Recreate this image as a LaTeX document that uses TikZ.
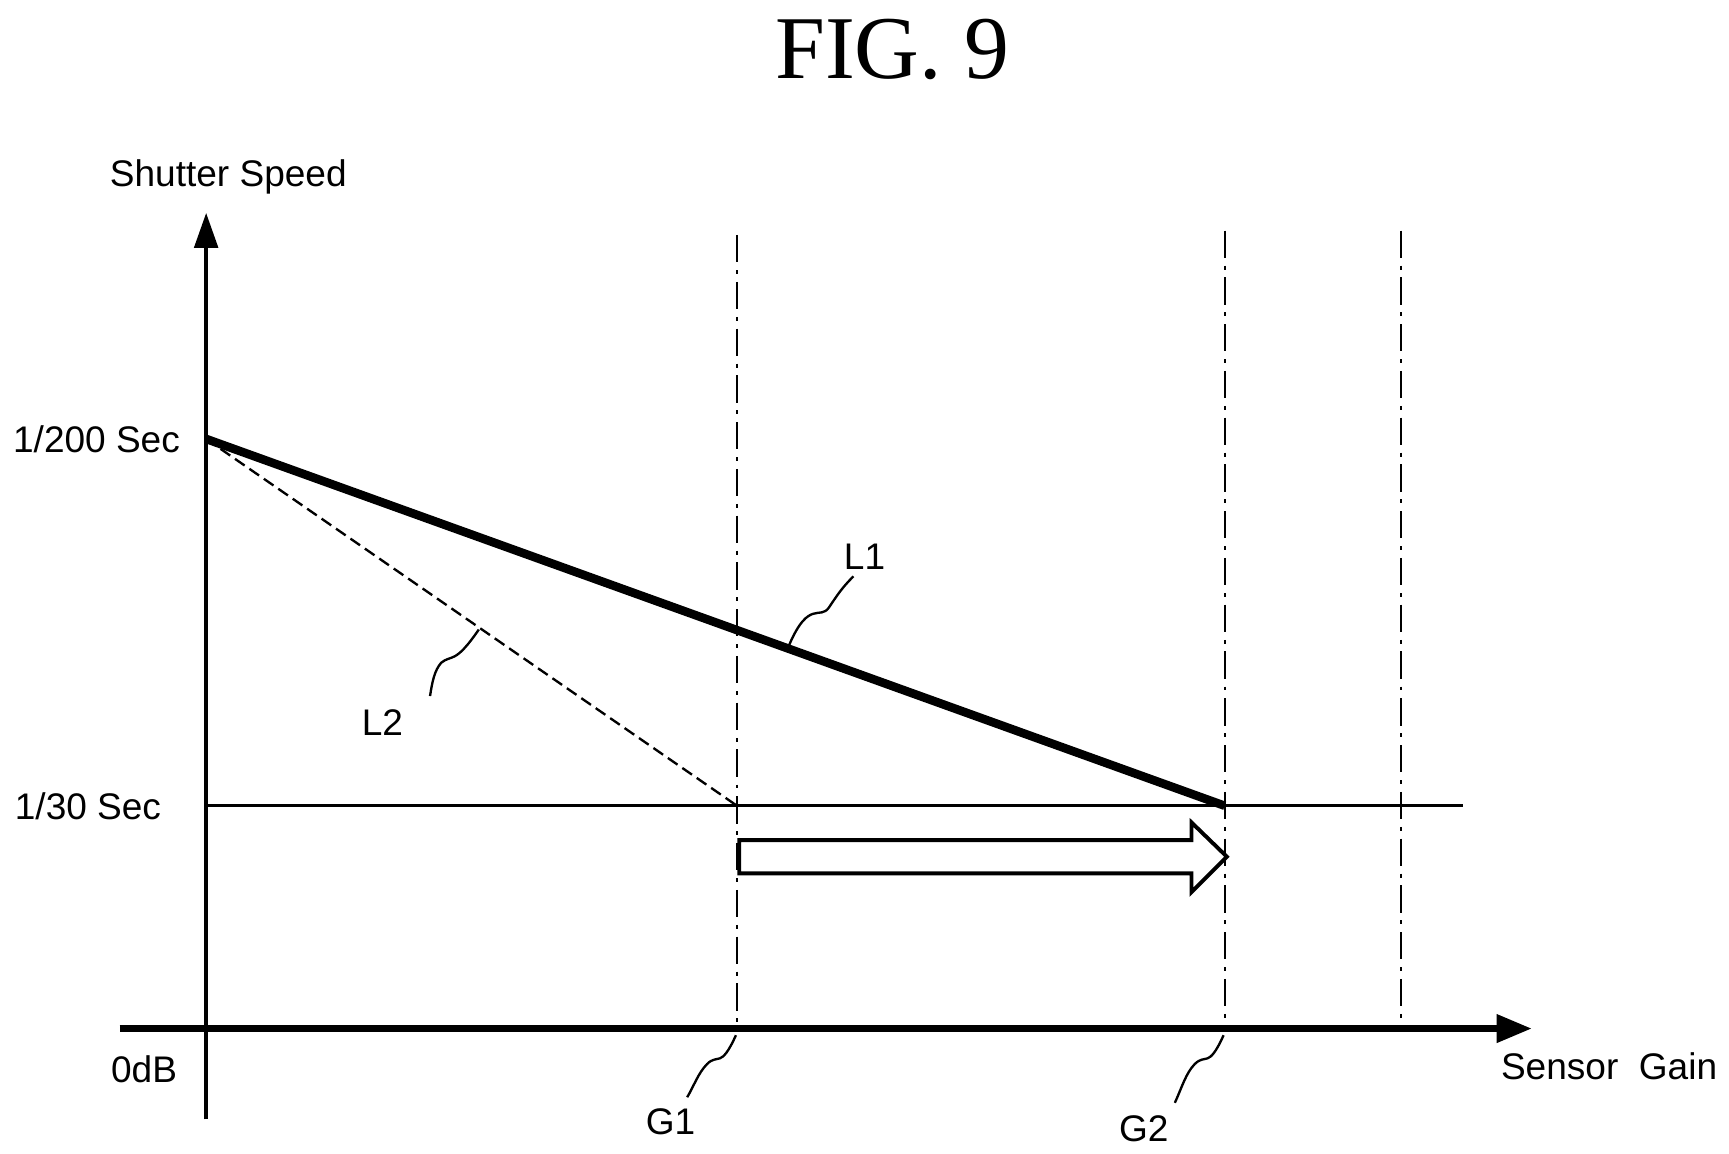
\documentclass[tikz,border=0pt]{standalone}
\usepackage{fontspec}
\setmainfont{Liberation Sans}
\newfontfamily\figfont{Liberation Serif}
\usetikzlibrary{arrows.meta}
\tikzset{
    lbl/.style={font=\fontsize{9.5pt}{11pt}\selectfont, inner sep=0pt},
    dashdot/.style={line width=0.6pt, dash pattern=on 7pt off 2pt on 1pt off 2pt},
    leader/.style={line width=0.6pt},
}
\begin{document}
\begin{tikzpicture}[x=0.01cm, y=-0.01cm]
        \useasboundingbox (0, 0) rectangle (1560, 1041);

        \node[font=\figfont\fontsize{23pt}{28pt}\selectfont] (fig) at (805, 45) {FIG. 9};

        % axes
        \coordinate (O) at (186, 928);
        \coordinate (ytop) at (186, 192);
        \coordinate (ybot) at (186, 1010);
        \coordinate (xleft) at (108, 928);
        \coordinate (xright) at (1382, 928);
        \draw[line width=1.6pt, -{Triangle[length=9pt, width=7pt]}] (xleft) -- (xright);
        \draw[line width=1.1pt, -{Triangle[length=9pt, width=6pt]}] (ybot) -- (ytop);

        % levels
        \coordinate (s200) at (186, 396);
        \coordinate (s30) at (186, 727);
        \coordinate (s30end) at (1320, 727);
        \draw[line width=0.7pt] (s30) -- (s30end);

        % gain marks
        \coordinate (g1top) at (665, 212);
        \coordinate (g1) at (665, 928);
        \coordinate (g2top) at (1105, 208);
        \coordinate (g2) at (1105, 928);
        \coordinate (g3top) at (1264, 208);
        \coordinate (g3) at (1264, 928);
        \draw[dashdot] (g1top) -- (g1);
        \draw[dashdot] (g2top) -- (g2);
        \draw[dashdot] (g3top) -- (g3);

        % curves
        \coordinate (l1end) at (1105, 727);
        \coordinate (l2end) at (665, 727);
        \draw[line width=2.2pt] (s200) -- (l1end);
        \draw[line width=0.6pt, dash pattern=on 3pt off 1.5pt] (s200) -- (l2end);

        % block arrow
        \draw[line width=1pt] (667, 758) -- (1075, 758) -- (1075, 742) -- (1107, 773)
            -- (1075, 805) -- (1075, 788) -- (667, 788) -- cycle;

        % labels
        \node[lbl] (ylab) at (206, 160) {Shutter Speed};
        \node[lbl, anchor=east] (t200) at (163, 396) {1/200 Sec};
        \node[lbl, anchor=east] (t30) at (146, 727) {1/30 Sec};
        \node[lbl] (zero) at (130, 965) {0dB};
        \node[lbl, anchor=east] (xlab) at (1550, 962) {Sensor\ \ Gain};
        \node[lbl] (G1) at (605, 1012) {G1};
        \node[lbl] (G2) at (1032, 1018) {G2};
        \node[lbl] (L1) at (780, 502) {L1};
        \node[lbl] (L2) at (345, 652) {L2};

        % leaders
        \draw[leader] (712, 582) .. controls (730, 540) and (740, 560) .. (748, 548)
            .. controls (756, 536) and (760, 530) .. (770, 520);
        \draw[leader] (432, 568) .. controls (410, 600) and (408, 590) .. (398, 598)
            .. controls (392, 605) and (390, 615) .. (388, 628);
        \draw[leader] (664, 934) .. controls (650, 965) and (648, 950) .. (638, 960)
            .. controls (630, 968) and (626, 980) .. (620, 990);
        \draw[leader] (1104, 934) .. controls (1090, 965) and (1088, 950) .. (1078, 960)
            .. controls (1070, 968) and (1066, 982) .. (1060, 995);
\end{tikzpicture}
\end{document}
